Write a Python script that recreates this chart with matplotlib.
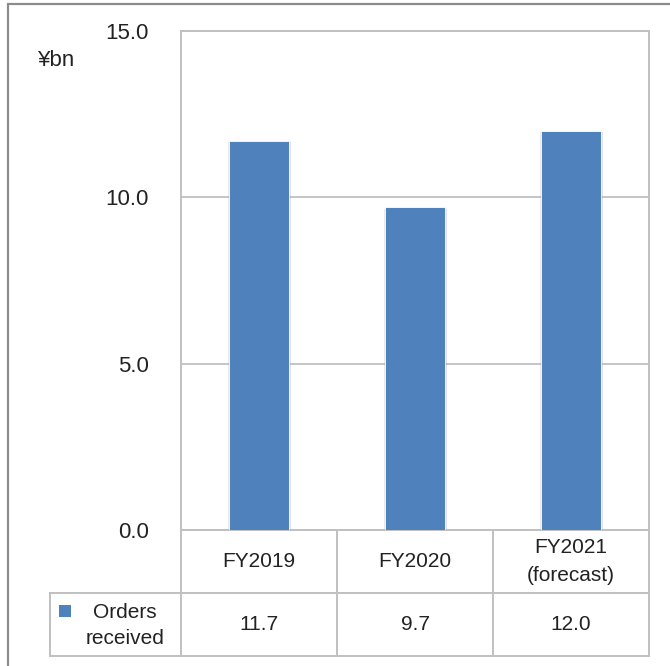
import matplotlib
matplotlib.use("Agg")
import matplotlib.pyplot as plt
from matplotlib.patches import Rectangle
from matplotlib.lines import Line2D
from matplotlib.transforms import blended_transform_factory
import matplotlib.patheffects as pe

# Data
categories = ["FY2019", "FY2020", "FY2021\n(forecast)"]
orders_received = [11.7, 9.7, 12.0]
series_name = "Orders\nreceived"
y_ticks = [0.0, 5.0, 10.0, 15.0]
unit_label = "¥bn"

BAR_COLOR = "#4F81BD"
GRID_COLOR = "#C0C0C0"
TEXT_COLOR = "#222222"
FONT = ["Liberation Sans", "DejaVu Sans"]

plt.rcParams["font.family"] = FONT

W, H = 670, 666
fig = plt.figure(figsize=(W / 100, H / 100), dpi=100)

# plot area in pixel coordinates
left_px, right_px, top_px, bottom_px = 181, 649, 31, 530
ax = fig.add_axes([left_px / W, 1 - bottom_px / H,
                   (right_px - left_px) / W, (bottom_px - top_px) / H])

x = list(range(len(categories)))
bars = ax.bar(x, orders_received, width=0.385, color=BAR_COLOR,
              edgecolor="white", linewidth=0.6, zorder=3)
for b in bars:
    b.set_path_effects([pe.SimplePatchShadow(offset=(1.5, -1.0), shadow_rgbFace="#999999", alpha=0.3),
                        pe.SimplePatchShadow(offset=(-1.0, -1.0), shadow_rgbFace="#999999", alpha=0.2),
                        pe.Normal()])

ax.set_xlim(-0.5, len(categories) - 0.5)
ax.set_ylim(0, 15)
ax.set_yticks(y_ticks)
ax.set_yticklabels([f"{t:.1f}" for t in y_ticks], fontsize=16, color=TEXT_COLOR)
ax.tick_params(axis="y", length=0, pad=23)
ax.set_xticks([])
ax.yaxis.grid(True, color=GRID_COLOR, linewidth=1.3, zorder=0)
ax.set_axisbelow(True)
for s in ax.spines.values():
    s.set_color(GRID_COLOR)
    s.set_linewidth(1.4)

# data table below the plot area
axes_h_px = bottom_px - top_px
axes_w_px = right_px - left_px
row1_y = (bottom_px - 593) / axes_h_px
row2_y = (bottom_px - 656) / axes_h_px
legend_left = (50 - left_px) / axes_w_px

trans = blended_transform_factory(ax.transData, ax.transAxes)
ta = ax.transAxes
line_kw = dict(color=GRID_COLOR, linewidth=1.4, clip_on=False)

# vertical separators between categories
for i in range(len(categories) + 1):
    xv = i - 0.5
    ax.add_line(Line2D([xv, xv], [0, row2_y], transform=trans, **line_kw))
# horizontal rules
ax.add_line(Line2D([legend_left, 1], [row1_y, row1_y], transform=ta, **line_kw))
ax.add_line(Line2D([legend_left, 1], [row2_y, row2_y], transform=ta, **line_kw))
ax.add_line(Line2D([legend_left, legend_left], [row1_y, row2_y], transform=ta, **line_kw))

# category labels and values
for i, (cat, val) in enumerate(zip(categories, orders_received)):
    ax.text(i, (0 + row1_y) / 2, cat, transform=trans, ha="center", va="center",
            fontsize=15, color=TEXT_COLOR, linespacing=1.6)
    ax.text(i, (row1_y + row2_y) / 2, f"{val:.1f}", transform=trans, ha="center",
            va="center", fontsize=15, color=TEXT_COLOR)

# legend key and series name
key_w = 12 / axes_w_px
key_h = 12 / axes_h_px
key_x = (59 - left_px) / axes_w_px
key_y = (bottom_px - 617) / axes_h_px
ax.add_patch(Rectangle((key_x, key_y), key_w, key_h, transform=ta,
                       facecolor=BAR_COLOR, edgecolor="none", clip_on=False))
ax.text((125 - left_px) / axes_w_px, (row1_y + row2_y) / 2 - 1 / axes_h_px, series_name,
        transform=ta, ha="center", va="center", fontsize=15,
        color=TEXT_COLOR, linespacing=1.5)

# unit label
fig.text(38 / W, 1 - 60 / H, unit_label, ha="left", va="center",
         fontsize=16, color=TEXT_COLOR)

# outer chart frame
fig.patches.append(Rectangle((8 / W, -0.05), 1.1, 1 - 4 / H + 0.05,
                             transform=fig.transFigure, fill=False,
                             edgecolor="#8C8C8C", linewidth=1.6))

fig.savefig("out.png", dpi=100)
